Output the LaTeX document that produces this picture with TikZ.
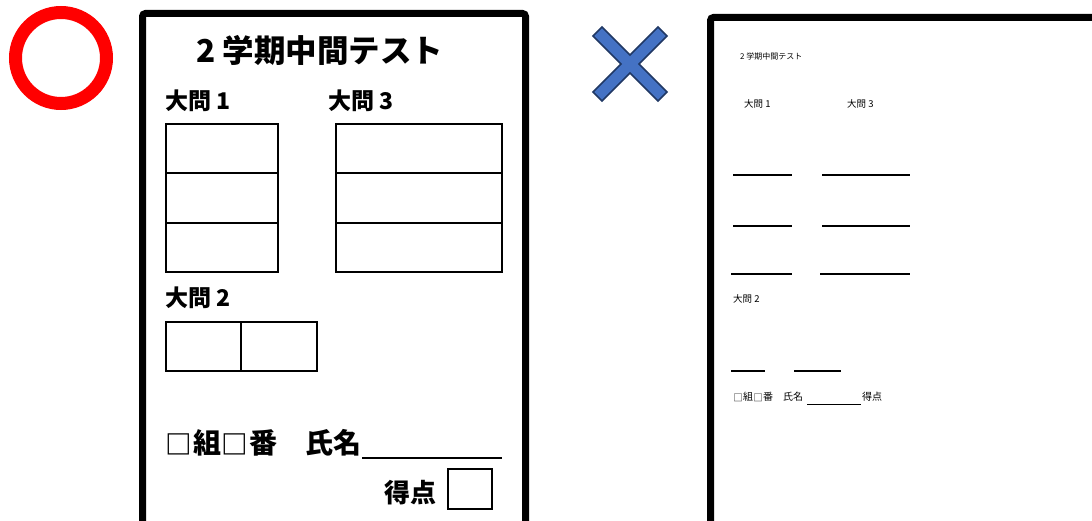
\documentclass[tikz,border=0pt]{standalone}
\usepackage{fontspec}
\newfontfamily\jp{Noto Sans CJK JP}
\newcommand{\sqbox}{\makebox[1em][c]{\raisebox{-0.04em}{\scalebox{0.95}{□}}}}
\tikzset{
  paper/.style={draw=black, line width=7pt, rounded corners=3pt},
  ansbox/.style={draw=black, line width=1.6pt},
  ansline/.style={draw=black, line width=2pt},
  bigtxt/.style={anchor=west, inner sep=0pt, font=\jp\bfseries},
  smalltxt/.style={anchor=west, inner sep=0pt, font=\jp},
}
\begin{document}
\begin{tikzpicture}[x=1pt,y=-1pt]
\useasboundingbox (0,0) rectangle (1092,521);
\clip (0,0) rectangle (1092,521);
% red circle
\draw[red, line width=13pt] (61,58) circle[radius=45.5];
% left paper
\draw[paper] (142.5,13.5) rectangle (525.5,580);
\node[bigtxt, font=\jp\bfseries\fontsize{31.5}{31.5}\selectfont] (title) at (196,50) {2 学期中間テスト};
\node[bigtxt, font=\jp\bfseries\fontsize{23}{23}\selectfont] (q1) at (165,101) {大問 1};
\node[bigtxt, font=\jp\bfseries\fontsize{23}{23}\selectfont] (q3) at (328,101) {大問 3};
\node[bigtxt, font=\jp\bfseries\fontsize{23}{23}\selectfont] (q2) at (165,298) {大問 2};
% boxes 1
\draw[ansbox] (166,124) rectangle (278,272);
\draw[ansbox] (166,173) -- (278,173) (166,223) -- (278,223);
% boxes 3
\draw[ansbox] (336,124) rectangle (502,272);
\draw[ansbox] (336,173) -- (502,173) (336,223) -- (502,223);
% boxes 2
\draw[ansbox] (166,322) rectangle (317,371);
\draw[ansbox] (241,322) -- (241,371);
\node[bigtxt, font=\jp\bfseries\fontsize{28}{28}\selectfont] (name) at (165,443) {\sqbox 組\sqbox 番　氏名};
\draw[ansbox] (362,458) -- (502,458);
\node[bigtxt, font=\jp\bfseries\fontsize{26}{26}\selectfont] (score) at (384,493) {得点};
\draw[ansbox] (448,469) rectangle (492,509);
% blue cross
\begin{scope}[shift={(630,64)}]
\def\a{37}\def\d{9}
\filldraw[fill={rgb,255:red,68;green,114;blue,196}, draw={rgb,255:red,32;green,56;blue,100}, line width=1.5pt, line join=miter]
 (\d,0) -- (\a,\a-\d) -- (\a-\d,\a) -- (0,\d) -- (-\a+\d,\a) -- (-\a,\a-\d) -- (-\d,0)
 -- (-\a,-\a+\d) -- (-\a+\d,-\a) -- (0,-\d) -- (\a-\d,-\a) -- (\a,-\a+\d) -- cycle;
\end{scope}
% right paper
\draw[paper] (710.5,17.5) rectangle (1130,580);
\node[smalltxt, font=\jp\fontsize{8}{8}\selectfont] (rtitle) at (740,56) {2 学期中間テスト};
\node[smalltxt, font=\jp\fontsize{9.5}{9.5}\selectfont] (rq1) at (744,104) {大問 1};
\node[smalltxt, font=\jp\fontsize{9.5}{9.5}\selectfont] (rq3) at (847,104) {大問 3};
\draw[ansline] (733,175.5) -- (792,175.5) (822,175.5) -- (910,175.5);
\draw[ansline] (733,226) -- (792,226) (822,226) -- (910,226);
\draw[ansline] (731,274.5) -- (792,274.5) (820,274.5) -- (910,274.5);
\node[smalltxt, font=\jp\fontsize{9.5}{9.5}\selectfont] (rq2) at (733,299) {大問 2};
\draw[ansline] (731,371) -- (765,371) (794,371) -- (841,371);
\node[smalltxt, font=\jp\fontsize{10}{10}\selectfont] (rname) at (733,397) {\sqbox 組\sqbox 番　氏名};
\draw[black, line width=0.8pt] (807,404) -- (861,404);
\node[smalltxt, font=\jp\fontsize{10}{10}\selectfont] (rscore) at (862,397) {得点};
\end{tikzpicture}
\end{document}
